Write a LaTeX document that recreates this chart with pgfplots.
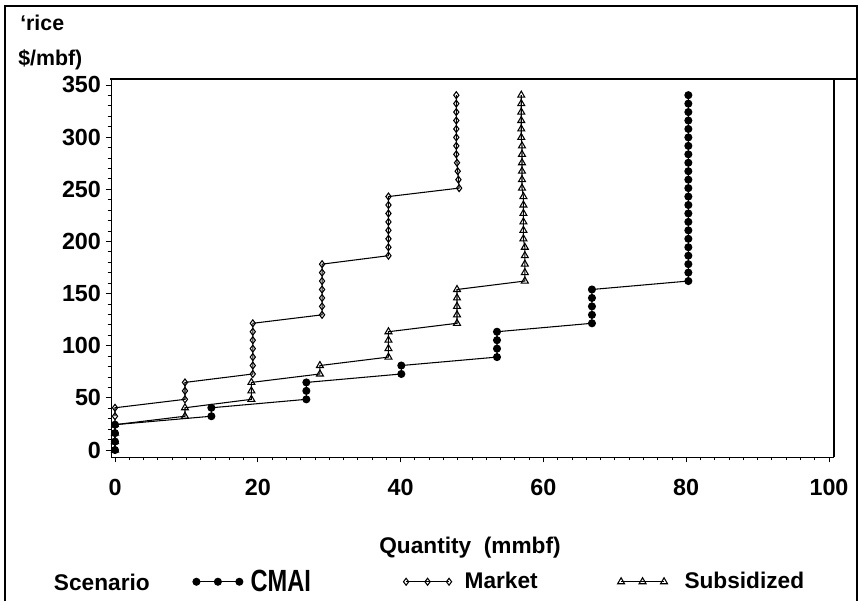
\documentclass[border=0pt]{standalone}
\usepackage{pgfplots}
\pgfplotsset{compat=1.18}
\usepackage{fontspec}
\setmainfont{Liberation Sans}

% price levels step by about 8.1 $/mbf; quantity is the step each scenario sits on
\begin{document}
\begin{tikzpicture}
% page = 859 x 601 px, 1 px = 0.75pt, origin at the axis corner (111,457)
\useasboundingbox (-83.25pt,-108pt) rectangle (561pt,342.75pt);
\begin{axis}[
  scale only axis, width=542.25pt, height=283.5pt,
  xmin=-0.56, xmax=100.7, ymin=-6.7, ymax=355.7,
  axis x line*=bottom, axis y line*=left,
  axis line style={line width=0.6pt, -},
  xtick={0,20,...,100}, ytick={0,50,...,350},
  minor x tick num=9, minor y tick num=4,
  tick align=outside, major tick length=4pt, minor tick length=2.5pt,
  tick style={line width=0.6pt, black},
  /pgf/number format/assume math mode=true,
  ticklabel style={font=\bfseries\fontsize{17.5}{19}\selectfont},
  xticklabel style={yshift=-9pt},
  clip=false,
  every axis plot/.append style={black, line width=0.8pt, mark options={solid, line width=1pt}},
  legend image code/.code={\draw[#1, mark repeat=1] plot coordinates {(0pt,0pt) (16.1pt,0pt) (32.2pt,0pt)};},
  legend columns=3,
  legend style={draw=none, fill=none, at={(0.113,-0.33)}, anchor=west, inner sep=0pt,
    /tikz/column sep=0pt, nodes={inner sep=0pt},
    font=\bfseries\fontsize{17}{19}\selectfont},
]
% CMAI
\addplot[mark=*, mark size=2.6pt, mark options={fill=black}] coordinates {
 (0,0) (0,8.1) (0,16.2) (0,24.3)
 (13.5,32.4) (13.5,40.5)
 (26.8,48.6) (26.8,56.7) (26.8,64.8)
 (40.1,72.9) (40.1,81)
 (53.5,89.1) (53.5,97.2) (53.5,105.3) (53.5,113.4)
 (66.8,121.5) (66.8,129.6) (66.8,137.7) (66.8,145.8) (66.8,153.9)
 (80.3,162) (80.3,170.1) (80.3,178.2) (80.3,186.3) (80.3,194.4) (80.3,202.5)
 (80.3,210.6) (80.3,218.7) (80.3,226.8) (80.3,234.9) (80.3,243) (80.3,251.1)
 (80.3,259.2) (80.3,267.3) (80.3,275.4) (80.3,283.5) (80.3,291.6) (80.3,299.7)
 (80.3,307.8) (80.3,315.9) (80.3,324) (80.3,332.1) (80.3,340.2)
};
\addlegendentry{\makebox[120.5pt][l]{\hspace*{5.8pt}\scalebox{0.77}[1]{\fontsize{23}{25}\selectfont CMAI}}}
% Market
\addplot[mark=diamond, mark size=2.6pt, mark options={fill=white}] coordinates {
 (0,32.4) (0,40.5)
 (9.8,48.6) (9.8,56.7) (9.8,64.8)
 (19.3,72.9) (19.3,81) (19.3,89.1) (19.3,97.2) (19.3,105.3) (19.3,113.4) (19.3,121.5)
 (29.0,129.6) (29.0,137.7) (29.0,145.8) (29.0,153.9) (29.0,162) (29.0,170.1) (29.0,178.2)
 (38.3,186.3) (38.3,194.4) (38.3,202.5) (38.3,210.6) (38.3,218.7) (38.3,226.8) (38.3,234.9) (38.3,243)
 (48.2,251.1) (48.1,259.2) (48.0,267.3) (47.9,275.4) (47.8,283.5) (47.8,291.6)
 (47.8,299.7) (47.8,307.8) (47.8,315.9) (47.8,324) (47.8,332.1) (47.8,340.2)
};
\addlegendentry{\makebox[124.5pt][l]{\hspace*{9.75pt}Market}}
% Subsidized
\addplot[mark=triangle, mark size=3pt, mark options={fill=white}] coordinates {
 (0,0) (0,8.1) (0,16.2) (0,24.3)
 (9.8,32.4) (9.8,40.5)
 (19.1,48.6) (19.1,56.7) (19.1,64.8)
 (28.7,72.9) (28.7,81)
 (38.3,89.1) (38.3,97.2) (38.3,105.3) (38.3,113.4)
 (47.9,121.5) (47.9,129.6) (47.9,137.7) (47.9,145.8) (47.9,153.9)
 (57.4,162) (57.4,170.1) (57.4,178.2) (57.4,186.3) (57.4,194.4)
 (57.2,202.5) (57.2,210.6) (57.2,218.7) (57.2,226.8) (57.2,234.9) (57.2,243)
 (57.0,251.1) (57.0,259.2) (57.0,267.3) (57.0,275.4) (57.0,283.5) (57.0,291.6)
 (56.9,299.7) (56.9,307.8) (56.9,315.9) (56.9,324) (56.9,332.1) (56.9,340.2)
};
\addlegendentry{\makebox[90pt][l]{\hspace*{12.75pt}Subsidized}}
\end{axis}
% frame and free text, in page pixels
\begin{scope}[x=0.75pt, y=-0.75pt, shift={(-83.25pt,342.75pt)}]
  \draw[line width=2.2pt] (5,601) -- (5,6) -- (857,6) -- (857,601);
  \draw[line width=2.2pt] (110,79) -- (857,79);
  \draw[line width=2.2pt] (834,79) -- (834,457);
  \node[anchor=base west, inner sep=0pt, font=\bfseries\fontsize{16}{18}\selectfont] at (20,31) {‘rice};
  \node[anchor=base west, inner sep=0pt, font=\bfseries\fontsize{16}{18}\selectfont] at (18,65) {\$/mbf)};
  \node[anchor=center, inner sep=0pt, font=\bfseries\fontsize{17}{19}\selectfont] at (470,548) {Quantity\ \ (mmbf)};
  \node[anchor=base east, inner sep=0pt, font=\bfseries\fontsize{17}{19}\selectfont] at (150,590) {Scenario};
\end{scope}
\end{tikzpicture}
\end{document}
